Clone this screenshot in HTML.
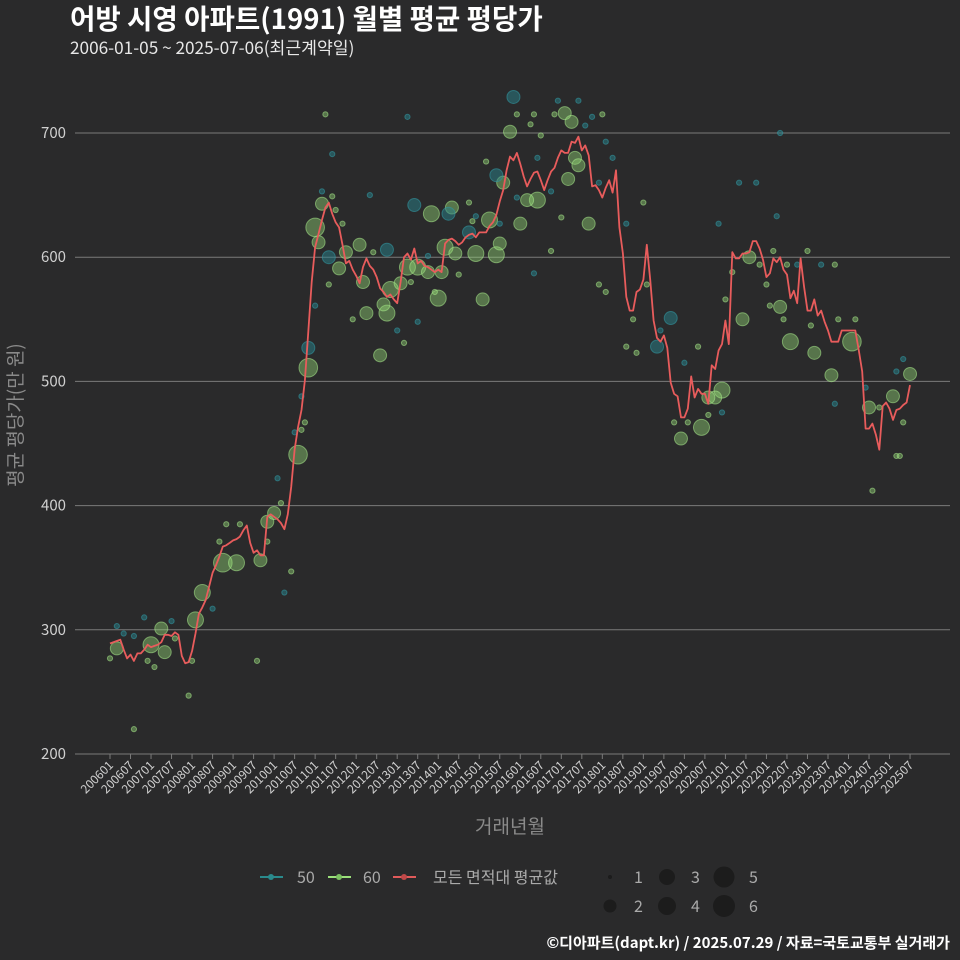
<!DOCTYPE html>
<html><head><meta charset="utf-8"><style>
html,body{margin:0;padding:0;background:#2a2a2b;}
svg{display:block;font-family:"Noto Sans CJK KR","Liberation Sans",sans-serif;}
</style></head><body>
<svg id="chart" width="960" height="960" viewBox="0 0 960 960">
<rect width="960" height="960" fill="#2a2a2b"/>
<text x="70" y="29" fill="#ffffff" font-size="27.6" font-weight="bold">어방 시영 아파트(1991) 월별 평균 평당가</text>
<text x="70" y="54" fill="#e8e8e8" font-size="17.2">2006-01-05 ~ 2025-07-06(최근계약일)</text>
<g id="grid"></g>
<g id="bubbles"></g>
<g id="line"></g>
<g id="xaxis"></g>
<text transform="translate(22,415) rotate(-90)" text-anchor="middle" fill="#8a8a8a" font-size="19">평균 평당가(만 원)</text>
<text x="510" y="833" text-anchor="middle" fill="#8a8a8a" font-size="19">거래년월</text>
<g>
 <g><line x1="260" y1="877" x2="283" y2="877" stroke="#2a8a8c" stroke-width="2"/><circle cx="271" cy="877" r="3" fill="#2a8a8c"/><text x="297" y="883" fill="#aaaaaa" font-size="16">50</text></g>
 <g><line x1="328" y1="877" x2="351" y2="877" stroke="#9be07a" stroke-width="2"/><circle cx="339" cy="877" r="3" fill="#7cc062"/><text x="363" y="883" fill="#aaaaaa" font-size="16">60</text></g>
 <g><line x1="393" y1="877" x2="416" y2="877" stroke="#e05a5a" stroke-width="2"/><circle cx="404" cy="877" r="3" fill="#c04848"/><text x="433" y="883" fill="#aaaaaa" font-size="16">모든 면적대 평균값</text></g>
 <g>
  <circle cx="610" cy="877" r="2" fill="#1c1c1c"/><text x="634" y="883" fill="#aaaaaa" font-size="16">1</text>
  <circle cx="610" cy="906" r="6.5" fill="#1c1c1c"/><text x="634" y="912" fill="#aaaaaa" font-size="16">2</text>
  <circle cx="667" cy="877" r="8" fill="#1c1c1c"/><text x="691" y="883" fill="#aaaaaa" font-size="16">3</text>
  <circle cx="667" cy="906" r="9" fill="#1c1c1c"/><text x="691" y="912" fill="#aaaaaa" font-size="16">4</text>
  <circle cx="724" cy="877" r="10.5" fill="#1c1c1c"/><text x="749" y="883" fill="#aaaaaa" font-size="16">5</text>
  <circle cx="724" cy="906" r="11" fill="#1c1c1c"/><text x="749" y="912" fill="#aaaaaa" font-size="16">6</text>
 </g>
</g>
<text x="950" y="948" text-anchor="end" fill="#ffffff" font-size="15" font-weight="bold">©디아파트(dapt.kr) / 2025.07.29 / 자료=국토교통부 실거래가</text>
</svg>
<script>
const yTicks = [200,300,400,500,600,700];
const startYear = 2006;
const avgValues = [289,290,291,292,284,277,280,275,281,281,284,288,286,287,288,290,296,296,295,298,296,279,273,274,283,297,313,318,324,335,346,352,359,367,368,370,372,373,375,380,384,370,362,364,360,360,391,393,391,389,386,381,393,415,445,463,477,501,540,580,608,619,630,640,644,
635,628,624,610,595,597,590,585,579,592,599,593,590,584,575,572,568,570,566,563,580,600,603,598,607,595,597,593,592,590,588,590,588,611,614,615,613,610,612,616,618,619,616,620,620,620,625,628,634,645,654,670,681,678,684,675,665,657,663,668,669,662,654,662,669,672,680,686,684,684,693,692,697,686,690,682,657,658,654,648,656,662,652,670,624,603,568,557,557,572,574,582,610,582,549,535,532,537,527,499,490,488,471,471,478,504,487,494,490,490,482,513,510,525,530,549,530,604,599,599,603,603,604,613,613,607,598,584,587,599,596,600,590,586,567,573,563,599,576,557,557,566,553,557,548,541,532,532,532,541,541,541,541,541,525,508,462,462,466,457,445,480,483,478,469,477,478,481,483,497];
const bubMonth = [2,12,15,16,27,25,33,37,44,46,48,55,58,60,61,62,67,69,73,74,75,80,81,79,82,85,87,90,93,94,96,97,98,100,101,107,109,111,113,114,115,117,120,122,125,133,135,134,136,137,140,
118,89,81,64,113,99,58,105,164,160,167,173,177,179,175,185,187,196,199,206,211,217,222,229,234,
2,4,7,10,0,11,13,18,19,23,24,30,32,34,38,43,46,50,51,53,49,54,56,57,56,7,
63,65,62,65,66,68,76,77,64,71,60,84,86,88,90,87,93,95,102,105,106,107,110,114,119,119,124,123,126,125,130,131,137,141,144,139,145,147,129,132,129,124,143,145,143,
156,151,153,151,154,157,161,165,169,168,172,175,179,178,180,182,184,189,196,195,190,192,193,194,197,198,201,204,205,208,212,213,218,212,221,225,230,232,232,230,231,223];
const bubValue = [285,288,301,282,330,308,354,354,356,387,394,441,511,624,612,643,591,604,610,580,555,562,555,521,574,579,592,592,588,635,567,588,608,640,603,603,566,630,602,611,660,701,627,646,646,716,709,663,680,674,627,
729,642,606,600,666,635,527,620,551,528,454,463,487,493,487,550,600,560,532,523,505,532,479,488,506,
303,297,295,310,277,275,270,307,293,247,275,317,371,385,385,275,371,402,330,347,422,459,461,467,488,220,
715,683,653,649,638,627,650,604,578,550,561,541,531,580,548,713,601,572,586,644,629,633,677,627,648,715,715,707,698,680,715,726,726,713,715,706,693,680,653,632,605,587,578,572,660,
644,627,550,528,523,578,541,467,467,515,528,473,475,627,566,588,660,660,700,633,594,578,561,605,550,594,594,605,545,594,594,550,550,482,495,479,508,518,467,440,440,412];
const bubCount = [2,3,2,2,3,3,4,3,2,2,2,4,4,4,2,2,2,2,2,2,2,2,3,2,3,2,3,3,2,3,3,2,3,2,2,3,2,3,3,2,2,2,2,2,3,2,2,2,2,2,2,
2,2,2,2,2,2,2,2,2,2,2,3,2,3,2,2,2,2,3,2,2,4,2,2,2];
const bubType = [60,60,60,60,60,60,60,60,60,60,60,60,60,60,60,60,60,60,60,60,60,60,60,60,60,60,60,60,60,60,60,60,60,60,60,60,60,60,60,60,60,60,60,60,60,60,60,60,60,60,60,
50,50,50,50,50,50,50,50,50,50,60,60,60,60,60,60,60,60,60,60,60,60,60,60,60,
50,50,50,50,60,60,60,50,60,60,60,50,60,60,60,60,60,60,50,60,50,50,60,60,50,60,
60,50,50,60,60,60,50,60,60,60,50,50,60,60,50,50,50,60,60,60,60,50,60,50,50,60,60,60,60,50,60,50,50,50,60,50,50,50,50,60,60,50,60,60,50,
60,50,60,60,60,60,50,60,60,50,60,60,50,50,60,60,50,50,50,50,60,60,60,60,60,60,50,60,60,50,60,60,60,50,50,60,50,50,60,60,60,60];

const NS = "http://www.w3.org/2000/svg";
const X0 = 110, XSTEP = 3.419, Y200 = 754, YPX = 1.242;
function xScale(m){ return X0 + m * XSTEP; }
function yScale(v){ return Y200 - (v - 200) * YPX; }
function rScale(n){ return [0,2.6,6.5,8,9.3,10.5,11.5][Math.min(n,6)]; }
function mk(tag, attrs, parent){ const e=document.createElementNS(NS,tag); for(const k in attrs) e.setAttribute(k,attrs[k]); parent.appendChild(e); return e; }

const grid = document.getElementById('grid');
yTicks.forEach(t=>{
  const l = mk('line',{x1:75,x2:950,y1:yScale(t),y2:yScale(t),stroke:'#7a7a7a','stroke-width':1},grid);
  
  
  const tx = mk('text',{x:66,y:yScale(t)+5,'text-anchor':'end',fill:'#d0d0d0','font-size':15},grid);
  tx.textContent = t;
  
  
});

const bg = document.getElementById('bubbles');
const order = bubMonth.map((_,i)=>i).sort((a,b)=>(bubCount[b]||1)-(bubCount[a]||1));
order.forEach(i=>{
  const n = bubCount[i]||1;
  const is50 = bubType[i]===50;
  const c = mk('circle',{cx:xScale(bubMonth[i]),cy:yScale(bubValue[i]),r:rScale(n),
    fill: is50 ? 'rgba(40,130,140,0.5)' : 'rgba(150,220,120,0.42)',
    stroke: is50 ? 'rgba(50,150,160,0.6)' : 'rgba(170,235,140,0.55)','stroke-width':1},bg);
  
  
});

const lg = document.getElementById('line');
const pts = avgValues.map((v,i)=>xScale(i).toFixed(1)+','+yScale(v).toFixed(1)).join(' ');
const pl = mk('polyline',{points:pts,fill:'none',stroke:'#e85c5c','stroke-width':1.8,'stroke-linejoin':'round'},lg);



const xa = document.getElementById('xaxis');
for(let m=0;m<avgValues.length;m+=6){
  const yr = startYear + Math.floor(m/12), mo = (m%12)+1;
  const lab = ''+yr+(mo<10?'0':'')+mo;
  const x = xScale(m);
  const tk = mk('line',{x1:x,x2:x,y1:754,y2:759,stroke:'#7a7a7a'},xa);
  
  
  const t = mk('text',{transform:`translate(${x+4},${766}) rotate(-45)`,'text-anchor':'end',fill:'#d0d0d0','font-size':12},xa);
  t.textContent = lab;
  
  
}
</script>
</body></html>
